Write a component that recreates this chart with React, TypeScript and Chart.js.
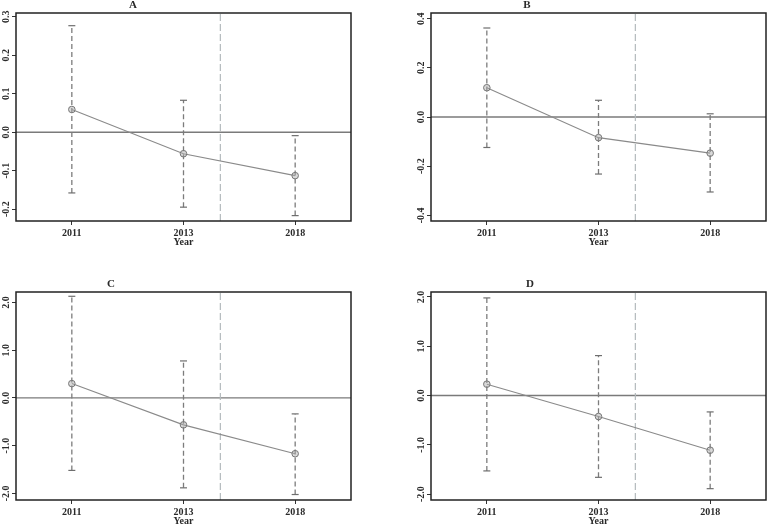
import React, { useEffect, useRef } from "react";
import { Chart, registerables } from "chart.js";

Chart.register(...registerables);

// ---- data ----
const years = ["2011", "2013", "2018"];
const policyLineX = 1.33; // position between 2013 and 2018 (category index units)

const estA = [0.059, -0.056, -0.113];
const loA = [-0.158, -0.195, -0.217];
const hiA = [0.277, 0.083, -0.009];
const yTicksA = [-0.2, -0.1, 0.0, 0.1, 0.2, 0.3];
const yRangeA = [-0.231, 0.31];

const estB = [0.119, -0.084, -0.147];
const loB = [-0.124, -0.232, -0.305];
const hiB = [0.362, 0.068, 0.013];
const yTicksB = [-0.4, -0.2, 0.0, 0.2, 0.4];
const yRangeB = [-0.423, 0.423];

const estC = [0.3, -0.565, -1.17];
const loC = [-1.52, -1.885, -2.025];
const hiC = [2.13, 0.775, -0.335];
const yTicksC = [-2, -1, 0, 1, 2];
const yRangeC = [-2.14, 2.22];

const estD = [0.23, -0.427, -1.11];
const loD = [-1.53, -1.66, -1.89];
const hiD = [1.98, 0.81, -0.333];
const yTicksD = [-2, -1, 0, 1, 2];
const yRangeD = [-2.12, 2.1];

const FONT = "'Liberation Serif', 'Times New Roman', serif";
const TEXT_COLOR = "#2a2a2a";

type Panel = {
  title: string;
  est: number[];
  lo: number[];
  hi: number[];
  yTicks: number[];
  yRange: number[];
  left: number;
  top: number;
  titleOffset: number;
};

const panels: Panel[] = [
  { title: "A", est: estA, lo: loA, hi: hiA, yTicks: yTicksA, yRange: yRangeA, left: 0, top: 0, titleOffset: 117 },
  { title: "B", est: estB, lo: loB, hi: hiB, yTicks: yTicksB, yRange: yRangeB, left: 415, top: 0, titleOffset: 96 },
  { title: "C", est: estC, lo: loC, hi: hiC, yTicks: yTicksC, yRange: yRangeC, left: 0, top: 279, titleOffset: 95 },
  { title: "D", est: estD, lo: loD, hi: hiD, yTicks: yTicksD, yRange: yRangeD, left: 415, top: 279, titleOffset: 99 },
];

const CW = 352;
const CH = 260;

function PanelChart({ p }: { p: Panel }) {
  const ref = useRef<HTMLCanvasElement | null>(null);
  useEffect(() => {
    if (!ref.current) return;
    const [ymin, ymax] = p.yRange;
    const errDatasets = years.map((_, i) => ({
      type: "line" as const,
      data: [
        { x: i, y: p.lo[i] },
        { x: i, y: p.hi[i] },
      ],
      borderColor: "#7c7c7c",
      borderWidth: 1.3,
      borderDash: [5, 3],
      pointStyle: "line" as const,
      pointRadius: 3.5,
      pointBorderColor: "#6e6e6e",
      pointBorderWidth: 1.2,
      showLine: true,
      order: 2,
    }));

    const framePlugin = {
      id: "frameAndLabels",
      afterDraw(chart: any) {
        const { ctx, chartArea } = chart;
        ctx.save();
        ctx.strokeStyle = "#222";
        ctx.lineWidth = 1.5;
        ctx.strokeRect(chartArea.left, chartArea.top, chartArea.right - chartArea.left, chartArea.bottom - chartArea.top);
        // rotated y tick labels
        const ys = chart.scales.y;
        ctx.fillStyle = TEXT_COLOR;
        ctx.font = `bold 10px ${FONT}`;
        ctx.textAlign = "center";
        ctx.textBaseline = "alphabetic";
        ys.ticks.forEach((t: any) => {
          const py = ys.getPixelForValue(t.value);
          ctx.save();
          ctx.translate(chartArea.left - 7, py);
          ctx.rotate(-Math.PI / 2);
          ctx.fillText(Number(t.value).toFixed(1), 0, 0);
          ctx.restore();
        });
        // panel title
        ctx.font = `bold 11px ${FONT}`;
        ctx.textAlign = "center";
        ctx.textBaseline = "middle";
        ctx.fillText(p.title, chartArea.left + p.titleOffset, 5);
        ctx.restore();
      },
    };

    const chart = new Chart(ref.current, {
      type: "scatter",
      data: {
        datasets: [
          {
            type: "line",
            data: [
              { x: -0.5, y: 0 },
              { x: 2.5, y: 0 },
            ],
            borderColor: "#7a7a7a",
            borderWidth: 1.4,
            pointRadius: 0,
            showLine: true,
            order: 4,
          },
          {
            type: "line",
            data: [
              { x: policyLineX, y: ymin },
              { x: policyLineX, y: ymax },
            ],
            borderColor: "#b4babd",
            borderWidth: 1.2,
            borderDash: [7, 3],
            pointRadius: 0,
            showLine: true,
            order: 3,
          },
          ...errDatasets,
          {
            type: "line",
            data: p.est.map((v, i) => ({ x: i, y: v })),
            borderColor: "#8a8a8a",
            borderWidth: 1.1,
            pointStyle: "circle",
            pointRadius: 3.3,
            pointBorderColor: "#777",
            pointBorderWidth: 1,
            pointBackgroundColor: "rgba(170,170,170,0.45)",
            showLine: true,
            order: 1,
          },
        ] as any,
      },
      options: {
        animation: false,
        responsive: false,
        events: [],
        layout: { autoPadding: false, padding: { top: 13, right: 1, left: 0, bottom: 0 } },
        plugins: { legend: { display: false }, tooltip: { enabled: false }, title: { display: false } },
        scales: {
          x: {
            type: "linear",
            min: -0.5,
            max: 2.5,
            afterBuildTicks: (scale: any) => {
              scale.ticks = years.map((_, i) => ({ value: i }));
            },
            afterFit: (scale: any) => {
              scale.height = 39;
              scale.paddingLeft = 0;
              scale.paddingRight = 0;
            },
            ticks: {
              callback: (v: any) => years[Math.round(Number(v))] ?? "",
              color: TEXT_COLOR,
              font: { family: FONT, size: 10, weight: "bold" },
              padding: 2,
              maxRotation: 0,
              minRotation: 0,
            },
            grid: { drawOnChartArea: false, drawTicks: true, tickLength: 4, color: "#333", lineWidth: 1 },
            border: { display: false },
            title: {
              display: true,
              text: "Year",
              color: TEXT_COLOR,
              font: { family: FONT, size: 10, weight: "bold" },
              padding: { top: 0, bottom: 12 },
            },
          },
          y: {
            type: "linear",
            min: ymin,
            max: ymax,
            afterBuildTicks: (scale: any) => {
              scale.ticks = p.yTicks.map((v) => ({ value: v }));
            },
            afterFit: (scale: any) => {
              scale.width = 16;
              scale.paddingTop = 0;
              scale.paddingBottom = 0;
            },
            ticks: { display: false },
            grid: { drawOnChartArea: false, drawTicks: true, tickLength: 4, color: "#333", lineWidth: 1 },
            border: { display: false },
          },
        },
      } as any,
      plugins: [framePlugin],
    });
    return () => chart.destroy();
  }, [p]);

  return (
    <canvas
      ref={ref}
      width={CW}
      height={CH}
      style={{ position: "absolute", left: p.left, top: p.top, width: CW, height: CH, display: "block" }}
    />
  );
}

export default function App() {
  return (
    <div
      style={{
        position: "absolute",
        left: 0,
        top: 0,
        width: 767,
        height: 525,
        overflow: "hidden",
        background: "#fff",
      }}
    >
      {panels.map((p) => (
        <PanelChart key={p.title} p={p} />
      ))}
    </div>
  );
}
